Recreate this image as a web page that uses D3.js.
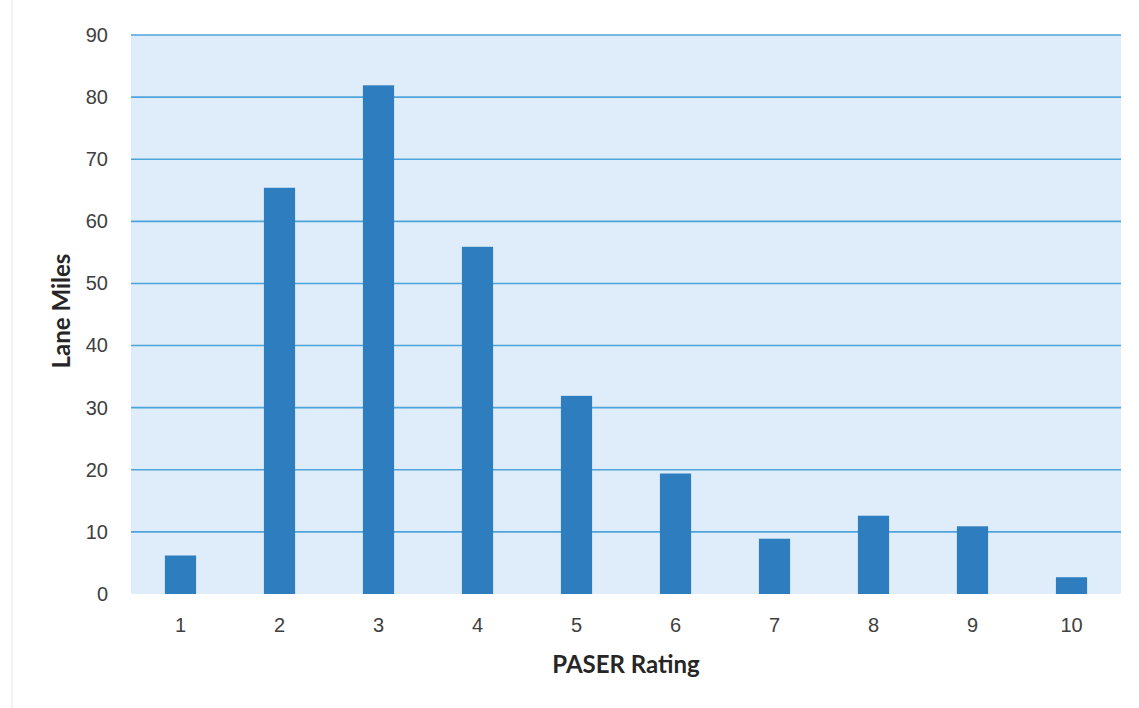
<!DOCTYPE html>
<html>
<head>
<meta charset="utf-8">
<script src="https://cdn.jsdelivr.net/npm/d3@7"></script>
<style>
  body { margin: 0; background: #fff; }
  svg { display: block; font-family: Lato, "Open Sans", sans-serif; }
</style>
</head>
<body>
<svg id="chart"></svg>
<script>
const ratings = ["1", "2", "3", "4", "5", "6", "7", "8", "9", "10"];
const laneMiles = [6.2, 65.4, 81.9, 55.9, 31.9, 19.4, 8.9, 12.6, 10.9, 2.7];
const yTicks = [0, 10, 20, 30, 40, 50, 60, 70, 80, 90];

const svgWidth = 1139, svgHeight = 708;
const margin = { top: 35, right: 18, bottom: 114, left: 131 };
const width = svgWidth - margin.left - margin.right;
const height = svgHeight - margin.top - margin.bottom;

const root = d3.select("#chart")
  .attr("width", svgWidth)
  .attr("height", svgHeight);

// faint page edge on the left
root.append("line")
  .attr("x1", 12).attr("x2", 12)
  .attr("y1", 0).attr("y2", svgHeight)
  .attr("stroke", "#e4e4e4")
  .attr("stroke-width", 1);

const svg = root.append("g")
  .attr("transform", `translate(${margin.left},${margin.top})`);

const xScale = d3.scaleBand()
  .domain(ratings)
  .range([0, width])
  .paddingInner(0.685)
  .paddingOuter(0.3425);

const yScale = d3.scaleLinear()
  .domain([0, 90])
  .range([height, 0]);

svg.append("rect")
  .attr("width", width)
  .attr("height", height)
  .attr("fill", "#deedf9");

// gridlines (none at zero)
svg.append("g")
  .selectAll("line")
  .data(yTicks.filter(d => d > 0))
  .enter()
  .append("line")
  .attr("x1", 0)
  .attr("x2", width)
  .attr("y1", d => yScale(d))
  .attr("y2", d => yScale(d))
  .attr("stroke", "#4fa3dc")
  .attr("stroke-width", 1.6);

svg.selectAll(".bar")
  .data(laneMiles)
  .enter()
  .append("rect")
  .attr("class", "bar")
  .attr("x", (d, i) => xScale(ratings[i]))
  .attr("y", d => yScale(d))
  .attr("width", xScale.bandwidth())
  .attr("height", d => height - yScale(d))
  .attr("fill", "#2e7ebf");

const xAxis = svg.append("g")
  .attr("transform", `translate(0,${height})`)
  .call(d3.axisBottom(xScale).tickSize(0).tickPadding(24));
xAxis.select(".domain").remove();

const yAxis = svg.append("g")
  .call(d3.axisLeft(yScale).tickValues(yTicks).tickSize(0).tickPadding(23));
yAxis.select(".domain").remove();

svg.selectAll(".tick text")
  .attr("fill", "#404040")
  .style("font-size", "20px");

svg.append("text")
  .attr("x", width / 2)
  .attr("y", height + 79)
  .attr("text-anchor", "middle")
  .attr("fill", "#262626")
  .style("font-size", "24px")
  .style("font-weight", "bold")
  .text("PASER Rating");

svg.append("text")
  .attr("transform", "rotate(-90)")
  .attr("x", -(311 - margin.top))
  .attr("y", -margin.left + 70)
  .attr("text-anchor", "middle")
  .attr("fill", "#262626")
  .style("font-size", "24px")
  .style("font-weight", "bold")
  .text("Lane Miles");
</script>
</body>
</html>
